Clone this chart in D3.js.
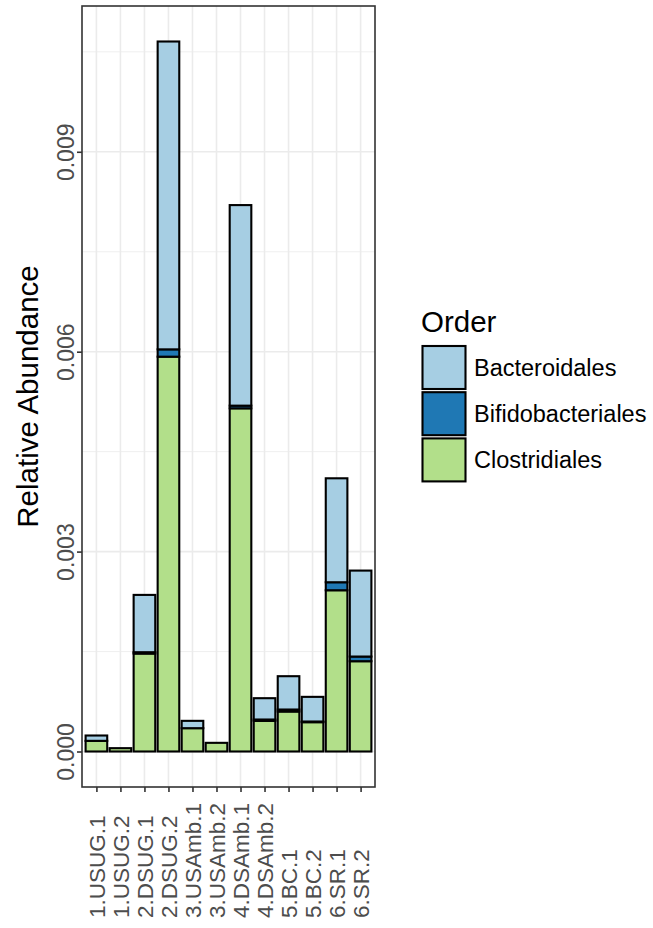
<!DOCTYPE html>
<html>
<head>
<meta charset="utf-8">
<script src="https://cdn.jsdelivr.net/npm/d3@7"></script>
<style>
  html, body { margin: 0; padding: 0; background: #fff; }
  svg { display: block; font-family: "Liberation Sans", Arial, sans-serif; }
</style>
</head>
<body>
<svg id="chart" width="653" height="928"></svg>
<script>
// Samples along the x axis
const samples = ["1.USUG.1", "1.USUG.2", "2.DSUG.1", "2.DSUG.2", "3.USAmb.1", "3.USAmb.2",
                 "4.DSAmb.1", "4.DSAmb.2", "5.BC.1", "5.BC.2", "6.SR.1", "6.SR.2"];
// Orders, in legend order (first one stacks on top)
const orders = ["Bacteroidales", "Bifidobacteriales", "Clostridiales"];
const orderColors = ["#a6cee3", "#1f78b4", "#b2df8a"];
// Relative abundance per order, one value per sample
const bacteroidales     = [0.00008, 0, 0.00086, 0.00462, 0.00011, 0, 0.00301, 0.00032, 0.00050, 0.00037, 0.00156, 0.00129];
const bifidobacteriales = [0, 0, 0.00002, 0.00011, 0, 0, 0.00004, 0.00002, 0.00003, 0.00001, 0.00012, 0.00007];
const clostridiales     = [0.00016, 0.00005, 0.00147, 0.005925, 0.00035, 0.00013, 0.00515, 0.00046, 0.00060, 0.00044, 0.00242, 0.001355];
// Axis ticks
const yTicks = [0, 0.003, 0.006, 0.009];
const yMinorTicks = [0.0015, 0.0045, 0.0075, 0.0105];

const seriesValues = [bacteroidales, bifidobacteriales, clostridiales];
const rows = samples.map((s, i) => {
  const r = { sample: s };
  orders.forEach((o, k) => { r[o] = seriesValues[k][i]; });
  return r;
});

// Stack bottom-up: Clostridiales, Bifidobacteriales, Bacteroidales
const stackKeys = orders.slice().reverse();
const stacked = d3.stack().keys(stackKeys)(rows);
const color = d3.scaleOrdinal().domain(orders).range(orderColors);

const panel = { left: 82, right: 375, top: 6, bottom: 787 };
const maxTotal = d3.max(rows, r => orders.reduce((a, o) => a + r[o], 0));
const span = maxTotal;
const y = d3.scaleLinear()
  .domain([-0.05 * span, maxTotal + 0.05 * span])
  .range([panel.bottom, panel.top]);
const x = d3.scalePoint().domain(samples).range([panel.left, panel.right]).padding(0.6);
const barW = x.step() * 0.9;

const svg = d3.select("#chart");
const textGrey = "#4d4d4d";

// Panel background and grid
const g = svg.append("g");
g.append("rect")
  .attr("x", panel.left).attr("y", panel.top)
  .attr("width", panel.right - panel.left).attr("height", panel.bottom - panel.top)
  .attr("fill", "#fff");

g.selectAll(".yminor").data(yMinorTicks).join("line")
  .attr("x1", panel.left).attr("x2", panel.right)
  .attr("y1", d => y(d)).attr("y2", d => y(d))
  .attr("stroke", "#ebebeb").attr("stroke-width", 0.8);
g.selectAll(".ymajor").data(yTicks).join("line")
  .attr("x1", panel.left).attr("x2", panel.right)
  .attr("y1", d => y(d)).attr("y2", d => y(d))
  .attr("stroke", "#ebebeb").attr("stroke-width", 1.6);
g.selectAll(".xmajor").data(samples).join("line")
  .attr("x1", d => x(d)).attr("x2", d => x(d))
  .attr("y1", panel.top).attr("y2", panel.bottom)
  .attr("stroke", "#ebebeb").attr("stroke-width", 1.6);

// Stacked bars
stacked.forEach(layer => {
  g.append("g").selectAll("rect")
    .data(layer.filter(d => d[1] - d[0] > 0))
    .join("rect")
    .attr("x", d => x(d.data.sample) - barW / 2)
    .attr("width", barW)
    .attr("y", d => y(d[1]))
    .attr("height", d => y(d[0]) - y(d[1]))
    .attr("fill", color(layer.key))
    .attr("stroke", "#000")
    .attr("stroke-width", 2.1);
});

// Panel border
g.append("rect")
  .attr("x", panel.left).attr("y", panel.top)
  .attr("width", panel.right - panel.left).attr("height", panel.bottom - panel.top)
  .attr("fill", "none").attr("stroke", "#333333").attr("stroke-width", 1.6);

// Y axis
const yAxis = svg.append("g").attr("transform", `translate(${panel.left},0)`)
  .call(d3.axisLeft(y).tickValues(yTicks).tickFormat(d3.format(".3f")).tickSize(5).tickPadding(0));
yAxis.select(".domain").remove();
yAxis.selectAll(".tick line").attr("stroke", "#333333").attr("stroke-width", 1.6);
yAxis.selectAll(".tick text")
  .attr("fill", textGrey)
  .style("font-size", "23px")
  .attr("text-anchor", "middle")
  .attr("x", 0).attr("dy", 0).attr("y", 0)
  .attr("transform", "translate(-8,0) rotate(-90)");

// X axis
const xAxis = svg.append("g").attr("transform", `translate(0,${panel.bottom})`)
  .call(d3.axisBottom(x).tickSize(5).tickPadding(0));
xAxis.select(".domain").remove();
xAxis.selectAll(".tick line").attr("stroke", "#333333").attr("stroke-width", 1.6);
xAxis.selectAll(".tick text")
  .attr("fill", textGrey)
  .style("font-size", "22.5px")
  .attr("text-anchor", "start")
  .attr("x", 0).attr("y", 0)
  .attr("dy", "0.36em")
  .attr("transform", "translate(0,131) rotate(-90)");

// Axis title
svg.append("text")
  .attr("transform", `translate(38,${(panel.top + panel.bottom) / 2}) rotate(-90)`)
  .attr("text-anchor", "middle")
  .style("font-size", "29.5px")
  .attr("fill", "#000")
  .text("Relative Abundance");

// Legend
const legend = svg.append("g").attr("transform", "translate(421,0)");
legend.append("text")
  .attr("x", 0).attr("y", 332)
  .style("font-size", "29.5px")
  .attr("fill", "#000")
  .text("Order");
const keyTop = 346, keySize = 43, keyStep = 46.2;
const items = legend.selectAll(".key").data(orders).join("g")
  .attr("transform", (d, i) => `translate(0,${keyTop + i * keyStep})`);
items.append("rect")
  .attr("x", 1.5).attr("y", 0)
  .attr("width", keySize).attr("height", keySize)
  .attr("fill", d => color(d))
  .attr("stroke", "#000").attr("stroke-width", 2.1);
items.append("text")
  .attr("x", 53).attr("y", keySize / 2)
  .attr("dy", "0.36em")
  .style("font-size", "23.5px")
  .attr("fill", "#000")
  .text(d => d);
</script>
</body>
</html>
